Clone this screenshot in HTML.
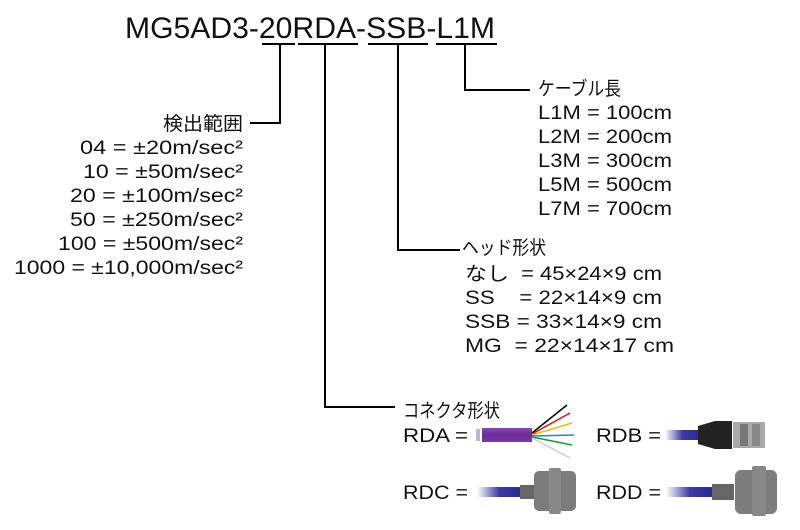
<!DOCTYPE html>
<html><head><meta charset="utf-8"><style>
html,body{margin:0;padding:0;background:#fff;width:800px;height:530px;overflow:hidden}
svg text{font-family:"Liberation Sans","Noto Sans CJK JP",sans-serif;fill:#111}
</style></head><body>
<svg width="800" height="530" xmlns="http://www.w3.org/2000/svg">
<defs>
<linearGradient id="bl" x1="0" x2="1"><stop offset="0" stop-color="#fff"/><stop offset=".5" stop-color="#3a3aa0"/><stop offset="1" stop-color="#2a2a90"/></linearGradient>
<linearGradient id="pu" x1="0" x2="0" y1="0" y2="1"><stop offset="0" stop-color="#8a4ab0"/><stop offset=".5" stop-color="#6a2a9a"/><stop offset="1" stop-color="#7a3aa8"/></linearGradient>
</defs>
<text x="125" y="38" font-size="30" textLength="370" lengthAdjust="spacingAndGlyphs">MG5AD3-20RDA-SSB-L1M</text>
<g stroke="#000" stroke-width="2" fill="none">
<line x1="262" y1="44" x2="295" y2="44"/><line x1="298" y1="44" x2="358" y2="44"/>
<line x1="368" y1="44" x2="428" y2="44"/><line x1="436" y1="44" x2="497" y2="44"/>
<polyline points="280,44 280,123 250,123"/>
<polyline points="325,44 325,407 395,407"/>
<polyline points="398,44 398,250 460,250"/>
<polyline points="465,44 465,90 530,90"/>
</g>
<g font-size="19" text-anchor="end" lengthAdjust="spacingAndGlyphs">
<text x="243" y="130" textLength="80" lengthAdjust="spacingAndGlyphs">検出範囲</text>
<text x="243" y="154" textLength="163" lengthAdjust="spacingAndGlyphs">04 = ±20m/sec²</text>
<text x="243" y="178" textLength="160" lengthAdjust="spacingAndGlyphs">10 = ±50m/sec²</text>
<text x="243" y="202" textLength="173" lengthAdjust="spacingAndGlyphs">20 = ±100m/sec²</text>
<text x="243" y="226" textLength="173" lengthAdjust="spacingAndGlyphs">50 = ±250m/sec²</text>
<text x="243" y="250" textLength="185" lengthAdjust="spacingAndGlyphs">100 = ±500m/sec²</text>
<text x="243" y="274" textLength="229" lengthAdjust="spacingAndGlyphs">1000 = ±10,000m/sec²</text>
</g>
<g font-size="19">
<text x="538" y="95" textLength="83" lengthAdjust="spacingAndGlyphs">ケーブル長</text>
<text x="538" y="119" textLength="134" lengthAdjust="spacingAndGlyphs">L1M = 100cm</text>
<text x="538" y="143" textLength="134" lengthAdjust="spacingAndGlyphs">L2M = 200cm</text>
<text x="538" y="167" textLength="134" lengthAdjust="spacingAndGlyphs">L3M = 300cm</text>
<text x="538" y="191" textLength="134" lengthAdjust="spacingAndGlyphs">L5M = 500cm</text>
<text x="538" y="215" textLength="134" lengthAdjust="spacingAndGlyphs">L7M = 700cm</text>
<text x="462" y="254" textLength="84" lengthAdjust="spacingAndGlyphs">ヘッド形状</text>
<text x="465" y="280" textLength="197" lengthAdjust="spacingAndGlyphs" xml:space="preserve">なし  = 45×24×9 cm</text>
<text x="465" y="304" textLength="197" lengthAdjust="spacingAndGlyphs" xml:space="preserve">SS    = 22×14×9 cm</text>
<text x="465" y="328" textLength="197" lengthAdjust="spacingAndGlyphs">SSB = 33×14×9 cm</text>
<text x="465" y="352" textLength="209" lengthAdjust="spacingAndGlyphs" xml:space="preserve">MG  = 22×14×17 cm</text>
<text x="403" y="417" textLength="97" lengthAdjust="spacingAndGlyphs">コネクタ形状</text>
<text x="403" y="442" textLength="65" lengthAdjust="spacingAndGlyphs">RDA =</text>
<text x="403" y="499" textLength="65" lengthAdjust="spacingAndGlyphs">RDC =</text>
<text x="596" y="442" textLength="65" lengthAdjust="spacingAndGlyphs">RDB =</text>
<text x="596" y="499" textLength="65" lengthAdjust="spacingAndGlyphs">RDD =</text>
</g>
<!-- RDA -->
<rect x="476" y="429" width="4" height="12" fill="#b8b8d8"/>
<rect x="482" y="428" width="50" height="14" fill="url(#pu)"/>
<g stroke-width="1.5" fill="none">
<line x1="532" y1="433" x2="567" y2="405" stroke="#000"/>
<line x1="532" y1="434" x2="570" y2="413" stroke="#e01010"/>
<line x1="532" y1="435" x2="572" y2="423" stroke="#e0c010"/>
<line x1="532" y1="436" x2="574" y2="435" stroke="#1090d0"/>
<line x1="532" y1="437" x2="572" y2="445" stroke="#10a030"/>
<line x1="532" y1="438" x2="570" y2="458" stroke="#ccc"/>
</g>
<!-- RDB -->
<rect x="665" y="430" width="35" height="10" fill="url(#bl)"/>
<path d="M698 426 L715 421 L732 421 L732 449 L715 449 L698 444Z" fill="#222"/>
<rect x="733" y="422" width="32" height="26" fill="#aaa"/>
<rect x="740" y="424" width="8" height="22" fill="#777"/><rect x="752" y="424" width="8" height="22" fill="#888"/>
<!-- RDC -->
<rect x="477" y="487" width="45" height="10" fill="url(#bl)"/>
<rect x="520" y="485" width="14" height="14" fill="#666"/>
<rect x="534" y="471" width="42" height="40" rx="5" fill="#7c7c7c"/>
<rect x="549" y="468" width="12" height="46" rx="2" fill="#888"/>
<!-- RDD -->
<rect x="666" y="487" width="48" height="10" fill="url(#bl)"/>
<rect x="712" y="484" width="22" height="16" fill="#666"/>
<rect x="735" y="470" width="42" height="44" rx="6" fill="#7c7c7c"/>
<rect x="752" y="466" width="14" height="50" rx="2" fill="#888"/>
</svg>
</body></html>
